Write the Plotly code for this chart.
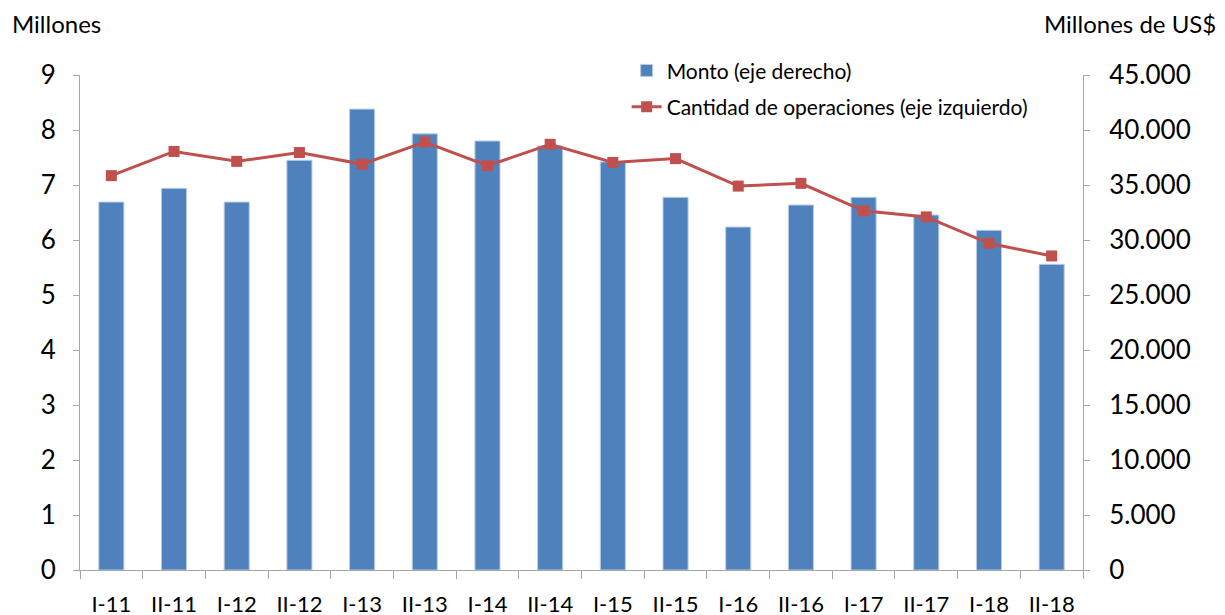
import plotly.graph_objects as go

categories = ["I-11", "II-11", "I-12", "II-12", "I-13", "II-13", "I-14", "II-14",
              "I-15", "II-15", "I-16", "II-16", "I-17", "II-17", "I-18", "II-18"]
monto = [33450, 34700, 33450, 37250, 41900, 39650, 39000, 38550,
         37100, 33880, 31180, 33180, 33880, 32270, 30880, 27790]
cantidad = [7.17, 7.61, 7.43, 7.59, 7.38, 7.78, 7.35, 7.74,
            7.41, 7.48, 6.98, 7.03, 6.53, 6.42, 5.94, 5.71]

FONT = "Lato, sans-serif"

fig = go.Figure()
fig.add_trace(go.Bar(
    x=categories, y=monto, name="Monto (eje derecho)",
    marker=dict(color="#4F81BD", line=dict(color="#B9CDE5", width=1)),
    yaxis="y", legendgroup="a",
))
fig.add_trace(go.Scatter(
    x=categories, y=cantidad, name="Cantidad de operaciones (eje izquierdo)",
    mode="lines+markers",
    line=dict(color="#C0504D", width=3),
    marker=dict(symbol="square", size=11, color="#C0504D"),
    yaxis="y2", legendgroup="b",
))

fig.update_layout(
    width=1225, height=615,
    margin=dict(l=72, r=150, t=67, b=53),
    paper_bgcolor="white", plot_bgcolor="white",
    separators=",.",
    bargap=0.6,
    font=dict(family=FONT, size=24, color="black"),
    showlegend=True,
    legend=dict(x=0.545, y=1.05, xanchor="left", yanchor="top",
                bgcolor="rgba(0,0,0,0)", font=dict(size=21), tracegroupgap=6),
    xaxis=dict(type="category", range=[-0.5, len(categories) - 0.5],
               showline=True, linecolor="#A6A6A6", linewidth=1,
               ticks="outside", tickson="boundaries", ticklen=8, tickcolor="#A6A6A6",
               showgrid=False, tickfont=dict(size=22), ticklabelstandoff=15,
               tickangle=0, automargin=False),
    yaxis=dict(side="right", range=[0, 45000], dtick=5000, tickformat=",",
               showline=True, linecolor="#A6A6A6", linewidth=1,
               ticks="outside", ticklen=6, tickcolor="#A6A6A6",
               showgrid=False, zeroline=False, tickfont=dict(size=26),
               ticklabelstandoff=14, automargin=False),
    yaxis2=dict(side="left", overlaying="y", range=[0, 9], dtick=1,
                showline=True, linecolor="#A6A6A6", linewidth=1,
                ticks="outside", ticklen=6, tickcolor="#A6A6A6",
                showgrid=False, zeroline=False, tickfont=dict(size=26),
                ticklabelstandoff=12, automargin=False),
    annotations=[
        dict(text="Millones", xref="paper", yref="paper", x=-0.07, y=1.104,
             xanchor="left", yanchor="middle", showarrow=False, font=dict(size=24)),
        dict(text="Millones de US$", xref="paper", yref="paper", x=1.1346, y=1.104,
             xanchor="right", yanchor="middle", showarrow=False, font=dict(size=24)),
    ],
)

fig.write_html("out.html")
